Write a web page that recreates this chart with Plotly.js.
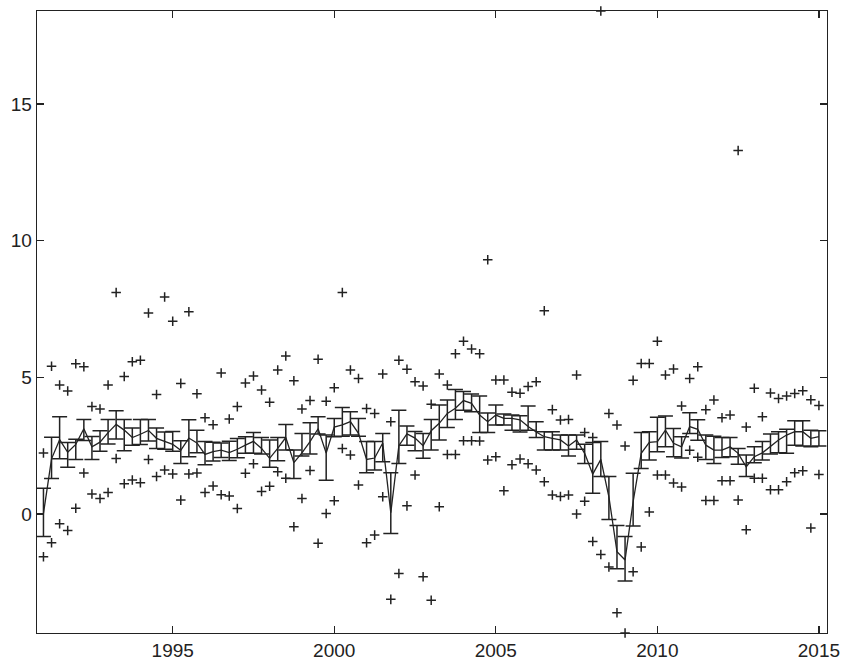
<!DOCTYPE html>
<html>
<head>
<meta charset="utf-8">
<script src="https://cdn.plot.ly/plotly-3.0.1.min.js"></script>
<style>
  html, body { margin: 0; padding: 0; background: #fff; }
  #chart { width: 845px; height: 665px; }
</style>
</head>
<body>
<div id="chart"></div>
<script>
// quarterly series, first quarter 1991
var startYear = 1991;

// mean path
var meanVals = [
  0.02, 2.02, 2.72, 2.26, 2.55, 3.12, 2.46, 2.63, 2.98, 3.28,
  3.07, 2.80, 2.92, 3.06, 2.77, 2.65, 2.55, 2.33, 2.78, 2.60,
  2.18, 2.28, 2.34, 2.25, 2.37, 2.52, 2.66, 2.40, 2.04, 2.40,
  2.80, 1.88, 2.24, 2.65, 3.12, 2.23, 3.18, 3.26, 3.38, 2.95,
  2.00, 2.05, 2.60, 0.05, 2.50, 2.93, 2.78, 2.50, 3.05, 3.32,
  3.68, 3.87, 4.15, 4.05, 3.62, 3.38, 3.62, 3.50, 3.50, 3.45,
  3.20, 3.00, 2.83, 2.77, 2.71, 2.49, 2.71, 2.22, 1.46, 2.00,
  0.63, -1.38, -1.68, 0.45, 2.22, 2.62, 2.65, 3.07, 2.59, 2.46,
  3.20, 3.10, 2.52, 2.34, 2.34, 2.46, 2.22, 1.73, 2.10, 2.24,
  2.46, 2.71, 2.89, 3.01, 3.01, 2.77, 2.83
];

// error bar top and bottom
var barTop = [
  0.94, 2.81, 3.56, 2.62, 2.74, 3.46, 2.84, 3.05, 3.46, 3.78,
  3.46, 3.15, 3.46, 3.46, 3.15, 3.00, 3.02, 2.68, 3.45, 3.07,
  2.65, 2.63, 2.60, 2.66, 2.76, 2.83, 2.98, 2.80, 2.71, 2.80,
  3.28, 2.34, 2.95, 3.34, 3.56, 2.89, 3.50, 3.90, 3.74, 3.50,
  2.65, 2.65, 2.95, 1.51, 3.80, 3.22, 3.02, 2.95, 3.46, 3.99,
  4.17, 4.56, 4.48, 4.39, 4.32, 3.70, 3.99, 3.66, 3.62, 3.60,
  3.95, 3.38, 3.01, 3.01, 2.89, 2.89, 2.89, 2.55, 2.62, 2.65,
  1.37, -0.42, -0.82, 1.49, 2.98, 3.01, 3.54, 3.59, 3.13, 2.83,
  3.71, 3.45, 2.89, 2.85, 2.80, 2.80, 2.40, 2.16, 2.46, 2.65,
  2.93, 3.01, 3.10, 3.41, 3.41, 3.07, 3.05
];
var barBottom = [
  -0.82, 1.30, 2.02, 1.71, 2.00, 2.69, 2.00, 2.30, 2.56, 2.75,
  2.32, 2.52, 2.54, 2.67, 2.40, 2.37, 2.30, 1.85, 2.10, 2.24,
  1.80, 1.94, 2.07, 1.96, 2.06, 2.22, 2.22, 2.20, 1.71, 1.95,
  2.34, 1.30, 2.12, 2.20, 2.93, 1.24, 2.83, 2.85, 2.89, 2.85,
  1.51, 1.61, 1.91, -0.71, 1.85, 2.52, 2.32, 2.04, 2.34, 2.71,
  3.17, 3.46, 3.80, 3.74, 2.98, 2.98, 3.26, 3.26, 3.07, 3.00,
  3.07, 2.80, 2.34, 2.34, 2.34, 2.12, 2.37, 1.85, 0.76, 1.37,
  -0.20, -2.00, -2.45, -0.44, 1.67, 1.98, 2.28, 2.46, 2.10, 2.05,
  2.95, 2.70, 2.00, 1.85, 2.07, 2.10, 1.82, 1.37, 1.88, 1.98,
  2.20, 2.24, 2.22, 2.52, 2.49, 2.46, 2.49
];

// highest and lowest individual values per quarter
var highVals = [
  2.23, 5.41, 4.72, 4.50, 5.50, 5.39, 3.93, 3.84, 4.72, 8.10,
  5.03, 5.57, 5.63, 7.35, 4.37, 7.94, 7.05, 4.78, 7.40, 4.40,
  3.52, 3.27, 5.16, 3.48, 3.93, 4.79, 5.05, 4.54, 4.09, 5.27,
  5.78, 4.88, 3.84, 4.15, 5.66, 4.13, 4.62, 8.10, 5.27, 4.96,
  3.86, 3.68, 5.12, 3.38, 5.63, 5.30, 4.84, 4.68, 4.02, 5.12,
  4.72, 5.86, 6.32, 6.04, 5.86, 9.30, 4.90, 4.90, 4.46, 4.42,
  4.67, 4.84, 7.44, 3.82, 3.44, 3.46, 5.09, 2.98, 2.80, 18.4,
  3.68, 3.26, 2.49, 4.89, 5.51, 5.51, 6.32, 5.09, 5.31, 3.95,
  4.96, 5.39, 3.82, 4.17, 3.52, 3.62, 13.3, 3.18, 4.60, 3.56,
  4.43, 4.23, 4.32, 4.41, 4.51, 4.18, 3.97
];
var lowVals = [
  -1.56, -1.05, -0.35, -0.60, 0.21, 1.50, 0.73, 0.57, 0.79, 2.03,
  1.11, 1.25, 1.15, 2.00, 1.37, 1.61, 1.47, 0.51, 1.47, 1.50,
  0.79, 1.03, 0.71, 0.66, 0.20, 1.49, 1.84, 0.83, 1.02, 1.55,
  1.31, -0.46, 0.57, 1.59, -1.07, 0.02, 0.49, 2.40, 2.16, 1.06,
  -1.05, -0.77, 0.63, -3.12, -2.17, 0.30, 1.43, -2.29, -3.15, 0.27,
  2.18, 2.18, 2.68, 2.68, 2.67, 1.98, 2.10, 0.85, 1.80, 2.01,
  1.84, 1.61, 1.18, 0.70, 0.64, 0.70, 0.00, 0.47, -1.00, -1.48,
  -1.94, -3.61, -4.35, -2.11, -1.20, 0.08, 1.43, 1.43, 1.14, 0.99,
  2.33, 2.08, 0.50, 0.50, 1.22, 1.22, 0.51, -0.57, 1.31, 1.31,
  0.89, 0.89, 1.18, 1.51, 1.58, -0.51, 1.45
];

var xTicks = [1995, 2000, 2005, 2010, 2015];
var yTicks = [0, 5, 10, 15];

var quarters = meanVals.map(function (v, i) { return startYear + i / 4; });
var upErr = barTop.map(function (v, i) { return v - meanVals[i]; });
var downErr = barBottom.map(function (v, i) { return meanVals[i] - v; });

var ink = '#222';
var plusMarker = {
  symbol: 'cross-thin',
  size: 6.8,
  color: ink,
  line: { color: ink, width: 1.5 }
};

var data = [
  {
    type: 'scatter', mode: 'markers',
    x: quarters, y: highVals,
    marker: plusMarker, cliponaxis: false,
    hoverinfo: 'x+y'
  },
  {
    type: 'scatter', mode: 'markers',
    x: quarters, y: lowVals,
    marker: plusMarker, cliponaxis: false,
    hoverinfo: 'x+y'
  },
  {
    type: 'scatter', mode: 'lines',
    x: quarters, y: meanVals,
    line: { color: ink, width: 1.3 },
    error_y: {
      type: 'data', symmetric: false,
      array: upErr, arrayminus: downErr,
      color: ink, thickness: 1.5, width: 7.5
    },
    hoverinfo: 'x+y'
  }
];

var axisBase = {
  showgrid: false,
  zeroline: false,
  showline: true,
  linecolor: ink,
  linewidth: 1.4,
  mirror: 'ticks',
  ticks: 'inside',
  ticklen: 7,
  tickwidth: 1.3,
  tickcolor: ink,
  tickfont: { family: 'Arial, "Liberation Sans", Helvetica, sans-serif', size: 19, color: ink }
};

var layout = {
  width: 845, height: 665,
  margin: { t: 11, r: 18, l: 37, b: 32 },
  paper_bgcolor: '#fff',
  plot_bgcolor: '#fff',
  showlegend: false,
  xaxis: Object.assign({}, axisBase, {
    range: [1990.8, 2015.25],
    tickmode: 'array', tickvals: xTicks
  }),
  yaxis: Object.assign({}, axisBase, {
    range: [-4.35, 18.4],
    tickmode: 'array', tickvals: yTicks
  })
};

Plotly.newPlot('chart', data, layout, { displayModeBar: false, staticPlot: true });
</script>
</body>
</html>
